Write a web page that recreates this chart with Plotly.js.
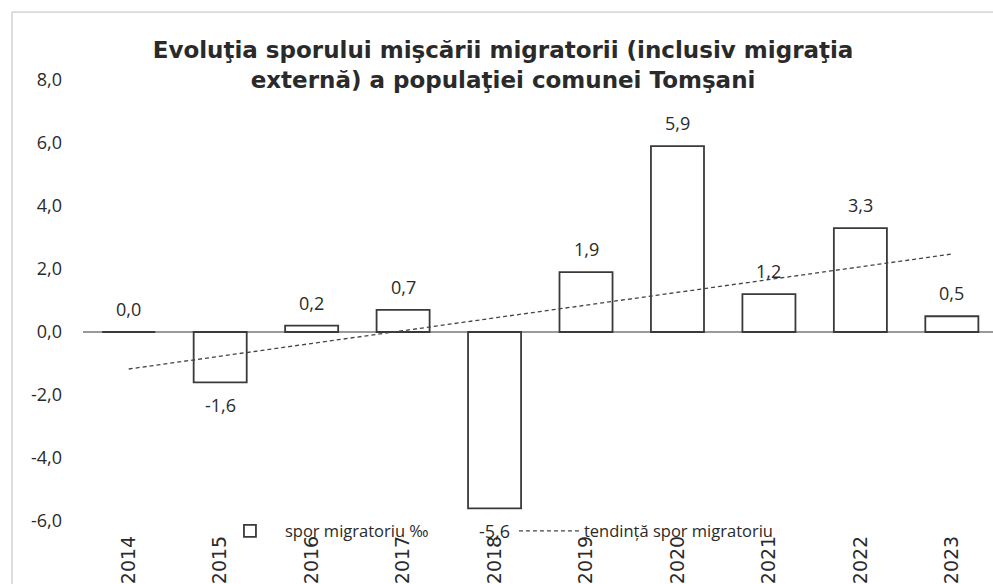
<!DOCTYPE html>
<html>
<head>
<meta charset="utf-8">
<script src="https://cdn.plot.ly/plotly-3.0.1.min.js"></script>
<style>html,body{margin:0;padding:0;background:#fff;}#chart{width:993px;height:584px;}</style>
</head>
<body>
<div id="chart"></div>
<script>
const years = ['2014','2015','2016','2017','2018','2019','2020','2021','2022','2023'];
const sporMigratoriu = [0.0, -1.6, 0.2, 0.7, -5.6, 1.9, 5.9, 1.2, 3.3, 0.5];
const yTicks = [-6, -4, -2, 0, 2, 4, 6, 8];
const yTickLabels = ['-6,0', '-4,0', '-2,0', '0,0', '2,0', '4,0', '6,0', '8,0'];
const barName = 'spor migratoriu ‰';
const trendName = 'tendință spor migratoriu';
const titleText = 'Evoluţia sporului mişcării migratorii (inclusiv migraţia<br>externă) a populaţiei comunei Tomşani';

// linear trendline (least squares), as in the original spreadsheet chart
const n = sporMigratoriu.length;
const idx = sporMigratoriu.map((_, i) => i);
const mx = idx.reduce((a, b) => a + b, 0) / n;
const my = sporMigratoriu.reduce((a, b) => a + b, 0) / n;
let sxy = 0, sxx = 0;
idx.forEach((x, i) => { sxy += (x - mx) * (sporMigratoriu[i] - my); sxx += (x - mx) * (x - mx); });
const slope = sxy / sxx, intercept = my - slope * mx;
const trend = idx.map(x => intercept + slope * x);

const labelFont = {family: 'Open Sans, Noto Sans, sans-serif', size: 18, color: '#2a2a2a'};

const valueLabels = years.map((yr, i) => ({
  x: i, y: sporMigratoriu[i], xref: 'x', yref: 'y',
  text: sporMigratoriu[i].toFixed(1).replace('.', ','),
  showarrow: false, yanchor: 'middle', xanchor: 'center',
  yshift: sporMigratoriu[i] >= 0 ? 23 : -23,
  font: {family: labelFont.family, size: labelFont.size, color: labelFont.color}
}));

const data = [
  {
    type: 'bar', x: years, y: sporMigratoriu, name: barName,
    marker: {color: '#ffffff', line: {color: '#3a3a3a', width: 1.8}},
    width: 0.58, hoverinfo: 'skip'
  },
  {
    type: 'scatter', mode: 'lines', x: years, y: trend, name: trendName,
    line: {color: '#444444', width: 1.3, dash: '4px,3px'}, hoverinfo: 'skip'
  }
];

const layout = {
  width: 993, height: 584,
  margin: {l: 83, r: 0, t: 80, b: 63},
  paper_bgcolor: '#ffffff', plot_bgcolor: 'rgba(0,0,0,0)',
  title: {
    text: titleText, x: 0.5066, xref: 'container', xanchor: 'center',
    y: 0.90, yref: 'container', yanchor: 'top',
    font: {family: 'DejaVu Sans, Liberation Sans, sans-serif', size: 23, color: '#2a2a2a', weight: 'bold'}
  },
  xaxis: {
    type: 'category', range: [-0.5, 9.45], showgrid: false, zeroline: false,
    showline: false, ticks: '', tickangle: -90,
    tickfont: {family: 'DejaVu Sans, sans-serif', size: 19, color: '#2a2a2a'},
    ticklabelstandoff: 10, fixedrange: true
  },
  yaxis: {
    range: [-6, 8], tickvals: yTicks, ticktext: yTickLabels, showgrid: false,
    zeroline: true, zerolinecolor: '#9a9a9a', zerolinewidth: 1.5,
    showline: false, ticks: '', tickfont: labelFont, ticklabelstandoff: 20, fixedrange: true
  },
  showlegend: true,
  legend: {
    orientation: 'h', x: 0.145, xanchor: 'left', y: -0.023, yanchor: 'middle',
    bgcolor: 'rgba(0,0,0,0)', font: {family: 'Open Sans, Noto Sans, sans-serif', size: 16.5, color: '#2a2a2a'},
    traceorder: 'normal', itemwidth: 60, entrywidth: 224, entrywidthmode: 'pixels'
  },
  annotations: valueLabels,
  shapes: [
    {type: 'rect', xref: 'paper', yref: 'paper', x0: -0.078, x1: 1.02, y0: -0.3, y1: 1.154,
     line: {color: '#bdbdbd', width: 1}, fillcolor: 'rgba(0,0,0,0)', layer: 'below'}
  ]
};

Plotly.newPlot('chart', data, layout, {displayModeBar: false, staticPlot: true});
</script>
</body>
</html>
